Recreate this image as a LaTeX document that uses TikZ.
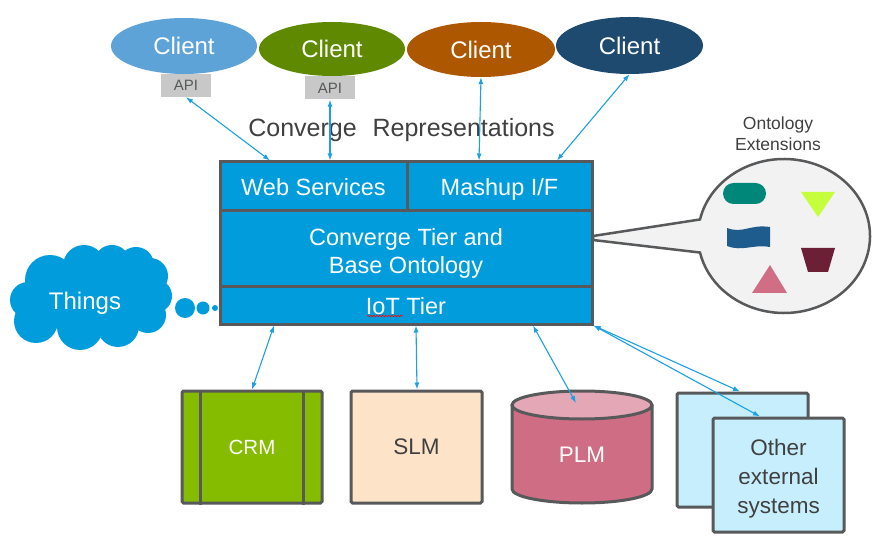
\documentclass[tikz,border=0pt]{standalone}
\usepackage{fontspec}
\setmainfont{Liberation Sans}
\usetikzlibrary{shapes.geometric,arrows.meta,decorations.pathmorphing}
\definecolor{edge}{HTML}{58595B}
\definecolor{mainblue}{HTML}{009CDC}
\definecolor{arrowblue}{HTML}{1BA1E2}
\definecolor{cone}{HTML}{5EA3D8}
\definecolor{ctwo}{HTML}{5F8A00}
\definecolor{cthree}{HTML}{AD5700}
\definecolor{cfour}{HTML}{1E4A70}
\definecolor{apigray}{HTML}{C8C8C8}
\definecolor{darktext}{HTML}{404040}
\definecolor{crmgreen}{HTML}{86BC00}
\definecolor{slmfill}{HTML}{FDE3C7}
\definecolor{plmbody}{HTML}{CF6D84}
\definecolor{plmtop}{HTML}{E3A7B5}
\definecolor{otherfill}{HTML}{C7EEFC}
\definecolor{bubblefill}{HTML}{F2F2F2}
\definecolor{tealshape}{HTML}{00877A}
\definecolor{limeshape}{HTML}{C5FF3C}
\definecolor{waveblue}{HTML}{1F5C8E}
\definecolor{maroonshape}{HTML}{6B2035}
\definecolor{pinktri}{HTML}{D06E86}
\begin{document}
\begin{tikzpicture}[x=1pt,y=1pt,
  tierbox/.style={draw=edge, line width=3pt, fill=mainblue, text=white, inner sep=0pt,
    font=\fontsize{23.5}{28}\selectfont, align=center, text height=20pt, text depth=1pt},
  clientnode/.style={ellipse, inner sep=0pt, text=white, font=\fontsize{24}{28}\selectfont},
  apibox/.style={fill=apigray, text=edge, inner sep=0pt, minimum width=50pt, minimum height=23pt,
    font=\fontsize{15}{18}\selectfont},
  arr/.style={draw=arrowblue, line width=1.1pt, {Latex[length=7pt,width=5pt]}-{Latex[length=7pt,width=5pt]}},
  sysbox/.style={draw=edge, line width=3pt, inner sep=0pt, rounded corners=1.5pt,
    font=\fontsize{22.5}{29}\selectfont, align=center},
  graytext/.style={text=darktext, inner sep=0pt, align=center}
]
\useasboundingbox (0,0) rectangle (894,-553);
\fill[white] (0,0) rectangle (894,-553);

% clients
\node[clientnode, fill=cone, minimum width=146pt, minimum height=56pt] (c1) at (184,-46) {Client};
\node[clientnode, fill=ctwo, minimum width=146pt, minimum height=54pt] (c2) at (332,-49) {Client};
\node[clientnode, fill=cthree, minimum width=148pt, minimum height=55pt] (c3) at (481,-49.5) {Client};
\node[clientnode, fill=cfour, minimum width=147pt, minimum height=57pt] (c4) at (629.5,-45.5) {Client};
\node[apibox] (api1) at (186,-85.5) {API};
\node[apibox] (api2) at (330,-88) {API};

\node[graytext, font=\fontsize{25}{30}\selectfont] (rep) at (401.5,-130) {Converge\hspace{9pt} Representations};

% speech bubble
\draw[draw=edge, line width=2.5pt, fill=bubblefill]
  (593,-236) -- ([shift={(167.6:86 and 77)}]784,-236)
  arc[start angle=167.6, end angle=-167.6, x radius=86, y radius=77] -- (593,-240) -- cycle;
\node[graytext, font=\fontsize{17.5}{21}\selectfont] (ontext) at (778,-133.5) {Ontology\\Extensions};
\fill[tealshape, rounded corners=10.5pt] (723,-183) rectangle (766,-204);
\fill[limeshape] (801,-192) -- (835,-192) -- (818,-217) -- cycle;
\fill[waveblue] (727,-228) .. controls (743,-234) and (750,-224) .. (770,-227) -- (770,-247)
  .. controls (752,-244) and (743,-252) .. (727,-246) -- cycle;
\fill[maroonshape] (801,-248) -- (835,-248) -- (828,-272) -- (808,-272) -- cycle;
\fill[pinktri] (770,-265) -- (787,-293) -- (752,-293) -- cycle;

% main block
\node[tierbox, minimum width=187pt, minimum height=49pt] (ws) at (313.5,-186.5) {Web Services};
\node[tierbox, minimum width=185pt, minimum height=49pt] (mash) at (499.5,-186.5) {Mashup I/F};
\node[tierbox, minimum width=372pt, minimum height=76pt] (conv) at (406,-249) {};
\node[text=white, inner sep=0pt, align=center, font=\fontsize{23.5}{28}\selectfont] (convtext)
  at ([yshift=-4pt]conv.center) {Converge Tier and\\Base Ontology};
\node[tierbox, minimum width=372pt, minimum height=37pt] (iot) at (406,-305.5) {IoT Tier};
\draw[red, line width=0.6pt, decorate, decoration={snake, amplitude=0.8pt, segment length=3pt}]
  (367,-316) -- (403,-316);

% things cloud
\fill[mainblue] (92,-295) ellipse[x radius=60, y radius=35];
\foreach \cx/\cy/\r in {28/300/18, 50/280/25, 84/266/21, 112/263/18, 136/265/18, 150/276/18,
  155/296/17, 148/315/18, 118/326/21, 80/327/23, 36/321/22}
  \fill[mainblue] (\cx,-\cy) circle (\r);
\node[text=white, inner sep=0pt, font=\fontsize{24}{28}\selectfont] (things) at (85,-303) {Things};
\fill[mainblue] (185,-308) circle (10);
\fill[mainblue] (203,-308) circle (6.5);
\fill[mainblue] (215,-308) circle (3);

% systems
\node[sysbox, fill=crmgreen, text=white, minimum width=140pt, minimum height=112pt,
  font=\fontsize{20.5}{26}\selectfont] (crm) at (252,-447) {CRM};
\draw[edge, line width=3pt] ([xshift=19.5pt]crm.north west) -- ([xshift=19.5pt]crm.south west);
\draw[edge, line width=3pt] ([xshift=-20.5pt]crm.north east) -- ([xshift=-20.5pt]crm.south east);
\node[sysbox, fill=slmfill, text=darktext, minimum width=131pt, minimum height=112pt] (slm) at (416.5,-447) {SLM};

\fill[plmbody] (512,-405) -- (512,-489) arc[start angle=180, end angle=360, x radius=70, y radius=14] -- (652,-405) -- cycle;
\draw[edge, line width=3pt] (512,-405) -- (512,-489) arc[start angle=180, end angle=360, x radius=70, y radius=14] -- (652,-405);
\draw[edge, line width=3pt, fill=plmtop] (582,-405) ellipse[x radius=70, y radius=14];
\node[text=white, inner sep=0pt, font=\fontsize{22.5}{28}\selectfont] (plm) at (582,-455) {PLM};
\coordinate (plmtopc) at (576,-403);

\node[sysbox, fill=otherfill, minimum width=131pt, minimum height=114pt] (back) at (742.5,-450) {};
\node[sysbox, fill=otherfill, minimum width=131pt, minimum height=114pt] (front) at (778.5,-475) {};
\node[graytext, font=\fontsize{22.5}{29}\selectfont] (fronttext) at ([yshift=-4pt]front.center) {Other\\external\\systems};

% connectors
\draw[arr] (api1.south) -- (270,0 |- ws.north);
\draw[arr] (api2.south) -- (330,0 |- ws.north);
\draw[arr] (c3.south) -- (479,0 |- mash.north);
\draw[arr] (c4.south) -- (557,0 |- mash.north);
\draw[arr] (274,0 |- iot.south) -- (252,0 |- crm.north);
\draw[arr] (416,0 |- iot.south) -- (417,0 |- slm.north);
\draw[arr] (533,0 |- iot.south) -- (plmtopc);
\draw[arr] (iot.south east) -- (740,0 |- back.north);
\draw[arr] (iot.south east) -- (760,0 |- front.north);
\end{tikzpicture}
\end{document}
